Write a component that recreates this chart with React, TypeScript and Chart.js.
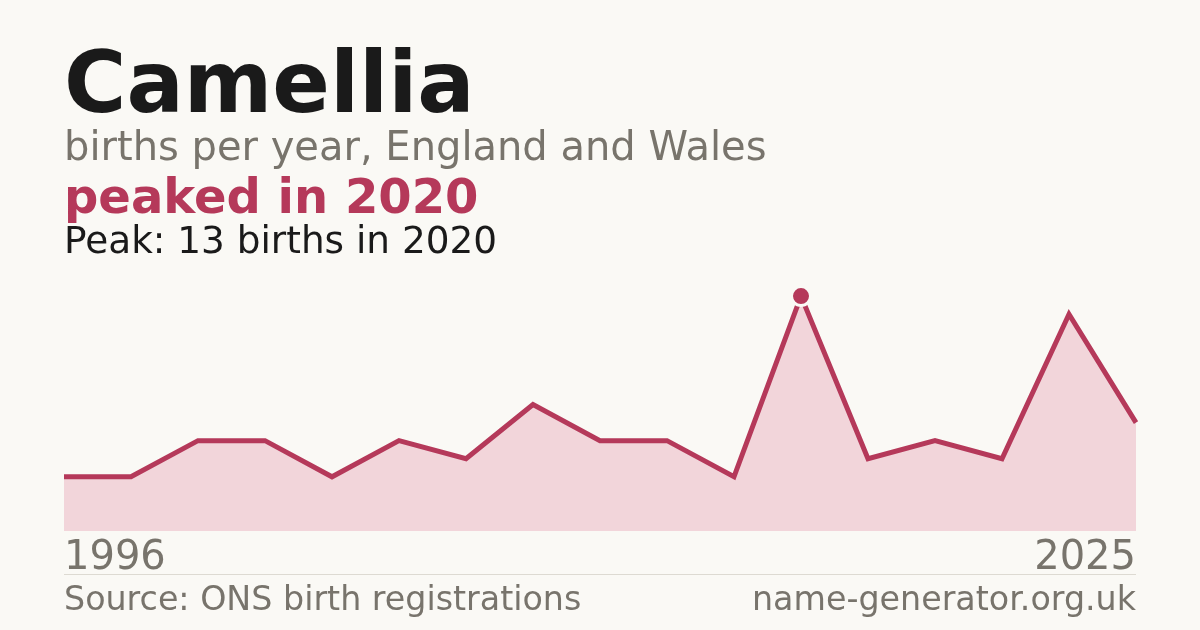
import { useEffect, useRef } from "react";
import { Chart, registerables } from "chart.js";

Chart.register(...registerables);

// years with a published count (ONS hides counts under 3)
const years = [
  "1996", "1998", "2001", "2003", "2005", "2007", "2009", "2011", "2013",
  "2016", "2018", "2020", "2021", "2022", "2023", "2024", "2025",
];
const births = [3, 3, 5, 5, 3, 5, 4, 7, 5, 5, 3, 13, 4, 5, 4, 12, 6];
const peakIndex = 11;

const BG = "#faf9f5";
const CRIMSON = "#b5395a";
const GREY = "#78746c";
const FONT = "'DejaVu Sans', sans-serif";

const App = () => {
  const canvasRef = useRef<HTMLCanvasElement | null>(null);
  const chartRef = useRef<Chart | null>(null);

  useEffect(() => {
    document.body.style.margin = "0";
    document.body.style.background = BG;
    if (!canvasRef.current) return;
    if (chartRef.current) chartRef.current.destroy();

    chartRef.current = new Chart(canvasRef.current, {
      type: "line",
      data: {
        labels: years,
        datasets: [
          {
            data: births,
            borderColor: CRIMSON,
            borderWidth: 5,
            backgroundColor: "#f2d5da",
            fill: "origin",
            tension: 0,
            pointRadius: births.map((_, i) => (i === peakIndex ? 9.5 : 0)),
            pointBorderWidth: 3,
            pointBorderColor: BG,
            pointBackgroundColor: CRIMSON,
          },
        ],
      },
      options: {
        responsive: false,
        animation: false,
        events: [],
        layout: { padding: { left: 64, right: 64, top: 278, bottom: 43 } },
        plugins: {
          legend: { display: false },
          tooltip: { enabled: false },
        },
        scales: {
          x: {
            offset: false,
            grid: { display: false, drawTicks: false },
            border: { display: false },
            ticks: {
              autoSkip: false,
              maxRotation: 0,
              align: "inner",
              padding: 4,
              color: GREY,
              font: { family: FONT, size: 40 },
              callback: (_v, i) => (i === 0 || i === years.length - 1 ? years[i] : ""),
            },
          },
          y: { display: false, min: 0, max: 14 },
        },
      },
    });

    return () => {
      if (chartRef.current) {
        chartRef.current.destroy();
        chartRef.current = null;
      }
    };
  }, []);

  const text = (top: number, size: number, color: string, weight = 400) => ({
    position: "absolute" as const,
    left: 64,
    top,
    fontSize: size,
    lineHeight: 1,
    color,
    fontWeight: weight,
    whiteSpace: "nowrap" as const,
  });

  return (
    <div style={{ position: "fixed", left: 0, top: 0, width: 1200, height: 630, background: BG, fontFamily: FONT }}>
      <canvas ref={canvasRef} width={1200} height={630} style={{ position: "absolute", left: 0, top: 0 }} />
      <div style={text(40, 85, "#1a1a1a", 700)}>Camellia</div>
      <div style={text(126, 40, GREY)}>births per year, England and Wales</div>
      <div style={text(172, 48, CRIMSON, 700)}>peaked in 2020</div>
      <div style={text(222, 37.4, "#1a1a1a")}>Peak: 13 births in 2020</div>
      <div style={{ position: "absolute", left: 64, width: 1072, top: 574, height: 1, background: "#dddad2" }} />
      <div style={text(582, 33.3, GREY)}>Source: ONS birth registrations</div>
      <div style={{ ...text(582, 33.3, GREY), left: "auto", right: 64 }}>name-generator.org.uk</div>
    </div>
  );
};

export default App;
